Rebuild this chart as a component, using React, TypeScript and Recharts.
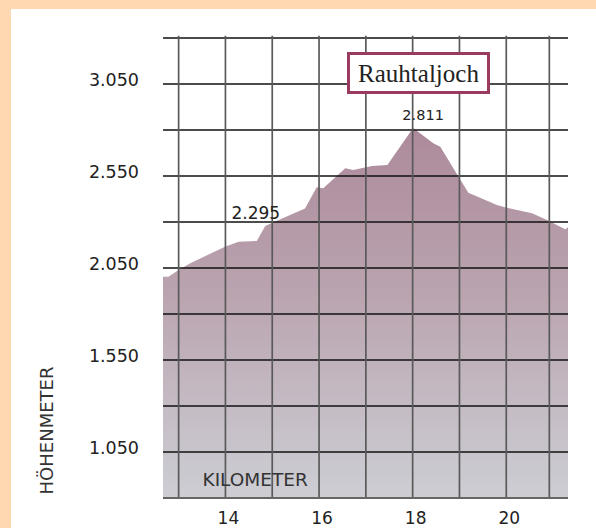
import React from 'react';
import { AreaChart, Area, XAxis, YAxis, ReferenceLine, LabelList } from 'recharts';

// Profile data (km, elevation in m)
const kilometers = [12.666, 12.78, 13.0, 13.24, 13.99, 14.28, 14.67, 14.85, 14.99, 15.7, 15.95, 16.09, 16.56, 16.73, 17.13, 17.46, 18.01, 18.44, 18.59, 18.98, 19.19, 19.8, 20.01, 20.55, 20.87, 21.26, 21.319];
const elevations = [2003, 2003, 2039, 2075, 2166, 2193, 2197, 2278, 2295, 2374, 2489, 2483, 2592, 2583, 2604, 2610, 2811, 2728, 2709, 2546, 2459, 2392, 2378, 2347, 2311, 2260, 2271];

const labeledElevations = [2295, 2811];
const xGridTicks = [13, 14, 15, 16, 17, 18, 19, 20, 20.92];
const xLabelTicks = [14, 16, 18, 20];
const yGridTicks = [1050, 1300, 1550, 1800, 2050, 2300, 2550, 2800, 3050, 3300];
const yLabelTicks = [1050, 1550, 2050, 2550, 3050];
const xDomain = [12.666, 21.319];
const yDomain = [800, 3300];
const gridTopOvershoot = 3312; // vertical grid lines poke slightly above the top line
const passName = 'Rauhtaljoch';
const xTitle = 'KILOMETER';
const yTitle = 'HÖHENMETER';

const data = kilometers.map((km, i) => ({ km, m: elevations[i] }));

const fmt = (v: number) => `${Math.floor(v / 1000)}.${String(v % 1000).padStart(3, '0')}`;

const FONT = '"DejaVu Sans", Verdana, sans-serif';

const labelStyle: Record<number, { dx: number; dy: number; size: number }> = {
  2295: { dx: -16, dy: -4, size: 17 },
  2811: { dx: 10, dy: -8, size: 14.5 },
};

const YTick = (props: any) => {
  const { x, y, payload } = props;
  if (!yLabelTicks.includes(payload.value)) return <g />;
  return (
    <text x={x} y={y - 4} textAnchor="end" dominantBaseline="central" fontSize={17.5} fill="#222" fontFamily={FONT}>
      {fmt(payload.value)}
    </text>
  );
};

const XTick = (props: any) => {
  const { x, y, payload } = props;
  if (!xLabelTicks.includes(payload.value)) return <g />;
  return (
    <text x={x + 3} y={y + 20} textAnchor="middle" dominantBaseline="central" fontSize={17} fill="#222" fontFamily={FONT}>
      {payload.value}
    </text>
  );
};

const PeakLabel = (props: any) => {
  const value = props.value;
  const x = props.x ?? props.viewBox?.x;
  const y = props.y ?? props.viewBox?.y;
  if (!labeledElevations.includes(value) || x == null || y == null) return <g />;
  const s = labelStyle[value];
  return (
    <text x={x + s.dx} y={y + s.dy} textAnchor="middle" fontSize={s.size} fill="#222" fontFamily={FONT}>
      {fmt(value)}
    </text>
  );
};

export default function App() {
  return (
    <div style={{ position: 'absolute', left: 0, top: 0, width: 596, height: 528, background: '#FFD7B0' }}>
      <div style={{ position: 'absolute', left: 11, top: 9, right: 0, bottom: 0, background: '#FFFFFF' }} />
      <div style={{ position: 'absolute', left: 0, top: 0 }}>
        <AreaChart width={596} height={528} data={data} margin={{ top: 38, right: 28, bottom: 0, left: 0 }}>
          <defs>
            <linearGradient id="profileFill" x1="0" y1="0" x2="0" y2="1">
              <stop offset="0%" stopColor="#AD8A9B" />
              <stop offset="45%" stopColor="#BAA4B0" />
              <stop offset="100%" stopColor="#CDCED4" />
            </linearGradient>
          </defs>
          <XAxis
            dataKey="km"
            type="number"
            domain={xDomain}
            ticks={xGridTicks}
            allowDataOverflow
            height={30}
            tickLine={false}
            tickSize={0}
            tickMargin={0}
            axisLine={{ stroke: '#666', strokeWidth: 2 }}
            tick={<XTick />}
            interval={0}
          />
          <YAxis
            type="number"
            domain={yDomain}
            ticks={yGridTicks}
            allowDataOverflow
            width={163}
            axisLine={false}
            tickLine={false}
            tickSize={0}
            tickMargin={24}
            tick={<YTick />}
            interval={0}
          />
          <Area
            type="linear"
            dataKey="m"
            stroke="none"
            fill="url(#profileFill)"
            fillOpacity={1}
            isAnimationActive={false}
            dot={false}
            activeDot={false}
          >
            <LabelList dataKey="m" content={<PeakLabel />} />
          </Area>
          {yGridTicks.map((v) => (
            <ReferenceLine key={`h${v}`} y={v} stroke="#111" strokeWidth={1.3} ifOverflow="visible" />
          ))}
          {xGridTicks.map((v) => (
            <ReferenceLine
              key={`v${v}`}
              segment={[{ x: v, y: yDomain[0] }, { x: v, y: gridTopOvershoot }]}
              stroke="#5a5a5a"
              strokeWidth={1.7}
              ifOverflow="visible"
            />
          ))}
        </AreaChart>
      </div>
      <svg width={596} height={528} style={{ position: 'absolute', left: 0, top: 0, pointerEvents: 'none' }}>
        <text x={46.5} y={430.5} transform="rotate(-90 46.5 430.5)" textAnchor="middle" dominantBaseline="central" fontSize={18} fill="#333" fontFamily={FONT}>
          {yTitle}
        </text>
        <text x={202.5} y={485.5} textAnchor="start" fontSize={18.5} fill="#333" fontFamily={FONT}>
          {xTitle}
        </text>
      </svg>
      <div
        style={{
          position: 'absolute',
          left: 347,
          top: 52,
          width: 143,
          height: 42,
          boxSizing: 'border-box',
          border: '3px solid #983B5F',
          background: '#FFFFFF',
          display: 'flex',
          alignItems: 'center',
          justifyContent: 'center',
          fontFamily: '"Liberation Serif", "Times New Roman", serif',
          fontSize: 25,
          color: '#222',
          lineHeight: 1,
        }}
      >
        {passName}
      </div>
    </div>
  );
}
